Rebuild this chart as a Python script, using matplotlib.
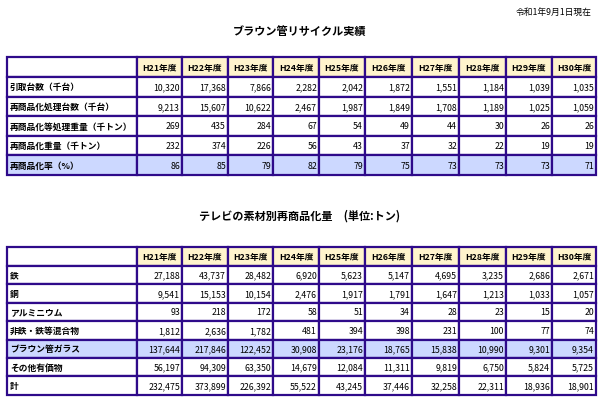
import matplotlib
matplotlib.use("Agg")
import matplotlib.pyplot as plt
from matplotlib.patches import Rectangle

plt.rcParams["font.family"] = "Noto Sans CJK JP"

years = ["H21年度", "H22年度", "H23年度", "H24年度", "H25年度",
         "H26年度", "H27年度", "H28年度", "H29年度", "H30年度"]

# table 1: ブラウン管リサイクル実績
labels1 = ["引取台数（千台）", "再商品化処理台数（千台）", "再商品化等処理重量（千トン）",
           "再商品化重量（千トン）", "再商品化率（%）"]
hikitori = [10320, 17368, 7866, 2282, 2042, 1872, 1551, 1184, 1039, 1035]
shori_daisu = [9213, 15607, 10622, 2467, 1987, 1849, 1708, 1189, 1025, 1059]
shori_juryo = [269, 435, 284, 67, 54, 49, 44, 30, 26, 26]
juryo = [232, 374, 226, 56, 43, 37, 32, 22, 19, 19]
ritsu = [86, 85, 79, 82, 79, 75, 73, 73, 73, 71]

# table 2: テレビの素材別再商品化量（トン）
labels2 = ["鉄", "銅", "アルミニウム", "非鉄・鉄等混合物", "ブラウン管ガラス", "その他有価物", "計"]
tetsu = [27188, 43737, 28482, 6920, 5623, 5147, 4695, 3235, 2686, 2671]
dou = [9541, 15153, 10154, 2476, 1917, 1791, 1647, 1213, 1033, 1057]
alumi = [93, 218, 172, 58, 51, 34, 28, 23, 15, 20]
hitetsu = [1812, 2636, 1782, 481, 394, 398, 231, 100, 77, 74]
glass = [137644, 217846, 122452, 30908, 23176, 18765, 15838, 10990, 9301, 9354]
sonota = [56197, 94309, 63350, 14679, 12084, 11311, 9819, 6750, 5824, 5725]
kei = [232475, 373899, 226392, 55522, 43245, 37446, 32258, 22311, 18936, 18901]

BORDER = "#2e0a8a"
HEAD = "#fff4cc"
HILITE = "#ccd8ff"
col_edges = [7, 137, 182, 228, 273, 319, 365, 412, 459, 506, 552, 596]


def draw_table(ax, top, row_h, head_h, labels, rows, hilite_idx):
    y = top
    # header
    ax.add_patch(Rectangle((col_edges[0], y), col_edges[1] - col_edges[0], head_h,
                           facecolor="white", edgecolor=BORDER, lw=1.6))
    for j, yr in enumerate(years):
        x0, x1 = col_edges[j + 1], col_edges[j + 2]
        ax.add_patch(Rectangle((x0, y), x1 - x0, head_h, facecolor=HEAD,
                               edgecolor=BORDER, lw=1.6))
        ax.text((x0 + x1) / 2, y + head_h / 2, yr, ha="center", va="center",
                fontsize=6.3, fontweight="bold")
    y += head_h
    for i, (lab, vals) in enumerate(zip(labels, rows)):
        fc = HILITE if i == hilite_idx else "white"
        ax.add_patch(Rectangle((col_edges[0], y), col_edges[1] - col_edges[0], row_h,
                               facecolor=fc, edgecolor=BORDER, lw=1.6))
        ax.text(col_edges[0] + 3, y + row_h / 2, lab, ha="left", va="center",
                fontsize=6.3, fontweight="bold")
        for j, v in enumerate(vals):
            x0, x1 = col_edges[j + 1], col_edges[j + 2]
            ax.add_patch(Rectangle((x0, y), x1 - x0, row_h, facecolor=fc,
                                   edgecolor=BORDER, lw=1.6))
            ax.text(x1 - 2, y + row_h / 2, f"{v:,}", ha="right", va="center",
                    fontsize=6.3)
        y += row_h


fig = plt.figure(figsize=(6, 4.1), dpi=100)
ax = fig.add_axes([0, 0, 1, 1])
ax.set_xlim(0, 600)
ax.set_ylim(410, 0)
ax.axis("off")

ax.text(592, 12, "令和1年9月1日現在", ha="right", va="center", fontsize=6.3)
ax.text(300, 31, "ブラウン管リサイクル実績", ha="center", va="center",
        fontsize=8, fontweight="bold")
draw_table(ax, 58, 19.6, 20, labels1,
           [hikitori, shori_daisu, shori_juryo, juryo, ritsu], 4)

ax.text(300, 216, "テレビの素材別再商品化量　(単位:トン)", ha="center", va="center",
        fontsize=8, fontweight="bold")
draw_table(ax, 248, 18.4, 19, labels2,
           [tetsu, dou, alumi, hitetsu, glass, sonota, kei], 4)

fig.savefig("out.png", dpi=100)
